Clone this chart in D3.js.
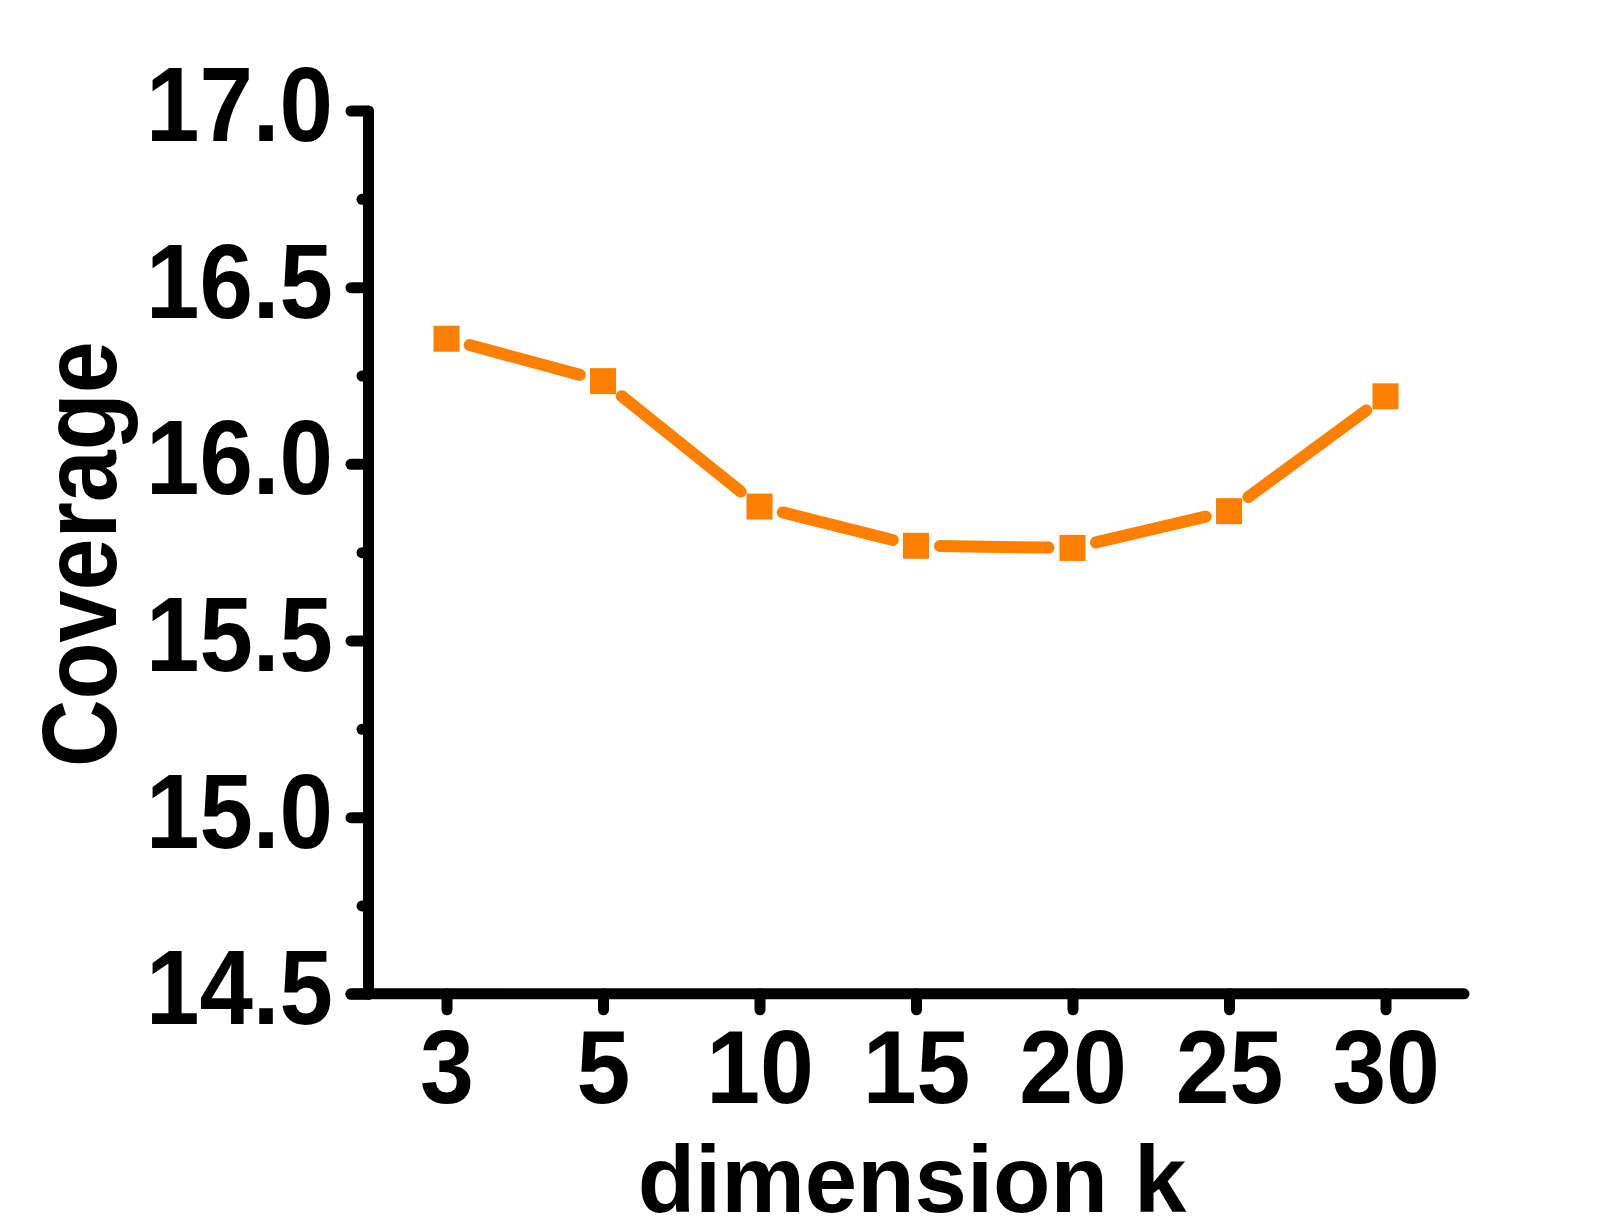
<!DOCTYPE html>
<html>
<head>
<meta charset="utf-8">
<script src="https://cdn.jsdelivr.net/npm/d3@7"></script>
<style>
  body { margin: 0; background: #fff; }
  text { font-family: "Liberation Sans", Arial, Helvetica, sans-serif; font-weight: bold; }
</style>
</head>
<body>
<script>
// data
var dims = ["3", "5", "10", "15", "20", "25", "30"];
var coverage = [16.354, 16.234, 15.879, 15.768, 15.762, 15.866, 16.191];
var yTicks = [14.5, 15.0, 15.5, 16.0, 16.5, 17.0];
var yMinorTicks = [14.75, 15.25, 15.75, 16.25, 16.75];

var width = 1609, height = 1232;
var axisX = 368, axisY = 993.8, topY = 110.5;
var orange = "#ff8000";

var svg = d3.select("body").append("svg")
  .attr("width", width).attr("height", height);
svg.append("rect").attr("width", width).attr("height", height).attr("fill", "#fff");

var y = d3.scaleLinear().domain([14.5, 17.0]).range([axisY, topY]);
var x = d3.scalePoint().domain(dims).range([446.5, 1385.5]);

// narrow bold glyphs, as in the picture
function squeeze(sel, k) {
  sel.each(function () {
    var w = this.getComputedTextLength();
    d3.select(this).attr("textLength", w * k).attr("lengthAdjust", "spacingAndGlyphs");
  });
}

// y axis, major ticks
var yAxis = svg.append("g")
  .attr("transform", "translate(" + axisX + ",0)")
  .call(d3.axisLeft(y).tickValues(yTicks).tickSize(17).tickSizeOuter(0).tickPadding(18)
    .tickFormat(d3.format(".1f")));
yAxis.selectAll(".tick text")
  .attr("dy", 30)
  .style("font-size", "105px");
// minor ticks
var yMinor = svg.append("g")
  .attr("transform", "translate(" + axisX + ",0)")
  .call(d3.axisLeft(y).tickValues(yMinorTicks).tickSize(6).tickFormat(""));
yMinor.select(".domain").remove();

// x axis
var xAxis = svg.append("g")
  .attr("transform", "translate(0," + axisY + ")")
  .call(d3.axisBottom(x).tickSize(16).tickSizeOuter(0).tickPadding(20));
xAxis.select(".domain").remove();
xAxis.selectAll(".tick text").style("font-size", "103px");
xAxis.append("line")
  .attr("x1", axisX - 17).attr("x2", x("30") + 78.5)
  .attr("y1", 0).attr("y2", 0)
  .attr("stroke", "#000");

svg.selectAll(".tick line, .domain, g > line")
  .attr("stroke", "#000").attr("stroke-width", 11).attr("stroke-linecap", "round");
svg.selectAll(".tick text").attr("fill", "#000");

squeeze(yAxis.selectAll(".tick text"), 0.915);
squeeze(xAxis.selectAll(".tick text"), 0.94);

// axis titles
var yTitle = svg.append("text")
  .attr("transform", "translate(116," + ((topY + axisY) / 2 + 2) + ") rotate(-90)")
  .attr("text-anchor", "middle")
  .style("font-size", "105px")
  .text("Coverage");
squeeze(yTitle, 0.89);

var xTitle = svg.append("text")
  .attr("x", 912).attr("y", 1212)
  .attr("text-anchor", "middle")
  .style("font-size", "95px")
  .text("dimension k");
squeeze(xTitle, 0.99);

// line segments, cut short near the markers
var pts = dims.map(function (d, i) { return [x(d), y(coverage[i])]; });
var gap = 24;
for (var i = 0; i < pts.length - 1; i++) {
  var a = pts[i], b = pts[i + 1];
  var dx = b[0] - a[0], dy = b[1] - a[1];
  var len = Math.sqrt(dx * dx + dy * dy);
  var ux = dx / len, uy = dy / len;
  svg.append("line")
    .attr("x1", a[0] + ux * gap).attr("y1", a[1] + uy * gap)
    .attr("x2", b[0] - ux * gap).attr("y2", b[1] - uy * gap)
    .attr("stroke", orange).attr("stroke-width", 12).attr("stroke-linecap", "round");
}

// square markers
var sq = 26;
svg.selectAll("rect.pt").data(coverage).enter().append("rect")
  .attr("class", "pt")
  .attr("x", function (d, i) { return x(dims[i]) - sq / 2; })
  .attr("y", function (d) { return y(d) - sq / 2; })
  .attr("width", sq).attr("height", sq)
  .attr("fill", orange);
</script>
</body>
</html>
